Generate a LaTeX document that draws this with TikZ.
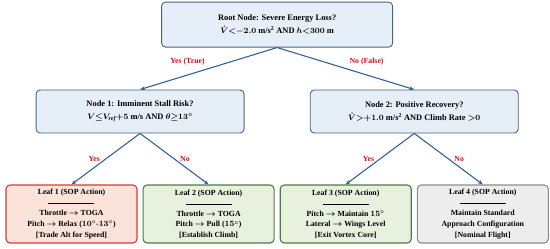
\documentclass[tikz,border=0pt]{standalone}
\usepackage{amsmath,amssymb}
\usepackage{fontspec}
\setmainfont{Liberation Serif}
\usepackage{xcolor}
\usepackage{tikz}
\usetikzlibrary{positioning,arrows.meta,calc}
\definecolor{qfill}{HTML}{E6EEF7}
\definecolor{qline}{HTML}{4A6484}
\definecolor{flow}{HTML}{2F6497}
\definecolor{lblred}{HTML}{D0101B}
\definecolor{redfill}{HTML}{FCE3DA}
\definecolor{redline}{HTML}{D93A3A}
\definecolor{grnfill}{HTML}{E7F1DE}
\definecolor{grnline}{HTML}{4F7A43}
\definecolor{gryfill}{HTML}{EDEDED}
\definecolor{gryline}{HTML}{8C8C8C}
\newcommand{\sep}{\rule[1.5pt]{46pt}{0.6pt}}

\begin{document}
\begin{tikzpicture}[
  font=\bfseries\boldmath,
  ques/.style={rounded corners=4pt,draw=qline,line width=0.9pt,fill=qfill,align=center,minimum width=208pt,minimum height=43pt,
    font=\fontsize{8.4}{12.5}\selectfont\bfseries\boldmath},
  leaf/.style={rounded corners=4pt,line width=1.1pt,align=center,minimum width=131pt,minimum height=58pt,inner sep=2pt,
    font=\fontsize{7.8}{10.6}\selectfont\bfseries\boldmath},
  >={Stealth[length=5pt,width=4pt]},edge/.style={->,draw=flow,line width=1.1pt},
  lbl/.style={text=lblred,font=\fontsize{7.8}{9}\selectfont\bfseries}
]
\useasboundingbox (0,0) rectangle (550pt,-249pt);
% leaves
\node[leaf,draw=redline,fill=redfill] (l1) at (71.5pt,-214pt) {Leaf 1 (SOP Action)\\\sep\\Throttle $\rightarrow$ TOGA\\Pitch $\rightarrow$ Relax ($10^\circ$-$13^\circ$)\\{}[Trade Alt for Speed]};
\node[leaf,draw=grnline,fill=grnfill,right=5pt of l1] (l2) {Leaf 2 (SOP Action)\\\sep\\Throttle $\rightarrow$ TOGA\\Pitch $\rightarrow$ Pull ($15^\circ$)\\{}[Establish Climb]};
\node[leaf,draw=grnline,fill=grnfill,right=5pt of l2] (l3) {Leaf 3 (SOP Action)\\\sep\\Pitch $\rightarrow$ Maintain $15^\circ$\\Lateral $\rightarrow$ Wings Level\\{}[Exit Vortex Core]};
\node[leaf,draw=gryline,fill=gryfill,right=5pt of l3] (l4) {Leaf 4 (SOP Action)\\\sep\\Maintain Standard\\Approach Configuration\\{}[Nominal Flight]};
% decisions
\coordinate (m1) at ($(l1.north)!0.5!(l2.north)$);
\coordinate (m2) at ($(l3.north)!0.5!(l4.north)$);
\node[ques,above=51pt of m1] (n1) {Node 1: Imminent Stall Risk?\\$V{\le}V_{\mathit{ref}}{+}5$ m/s AND $\theta{\ge}13^\circ$};
\node[ques,above=51pt of m2] (n2) {Node 2: Positive Recovery?\\$\dot{V}{>}{+}1.0$ m/s\textsuperscript{2} AND Climb Rate ${>}0$};
\coordinate (m0) at ($(n1.north)!0.5!(n2.north)$);
\node[ques,minimum width=231pt,minimum height=45pt,above=42pt of m0] (root) {Root Node: Severe Energy Loss?\\$\dot{V}{<}{-}2.0$ m/s\textsuperscript{2} AND $h{<}300$ m};

\draw[edge] (root.south) -- node[lbl,above left=0pt] {Yes (True)} (n1.north);
\draw[edge] (root.south) -- node[lbl,above right=0pt] {No (False)} (n2.north);
\draw[edge] (n1.south) -- node[lbl,left=2pt] {Yes} (l1.north);
\draw[edge] (n1.south) -- node[lbl,right=2pt] {No} (l2.north);
\draw[edge] (n2.south) -- node[lbl,left=2pt] {Yes} (l3.north);
\draw[edge] (n2.south) -- node[lbl,right=2pt] {No} (l4.north);
\end{tikzpicture}
\end{document}
